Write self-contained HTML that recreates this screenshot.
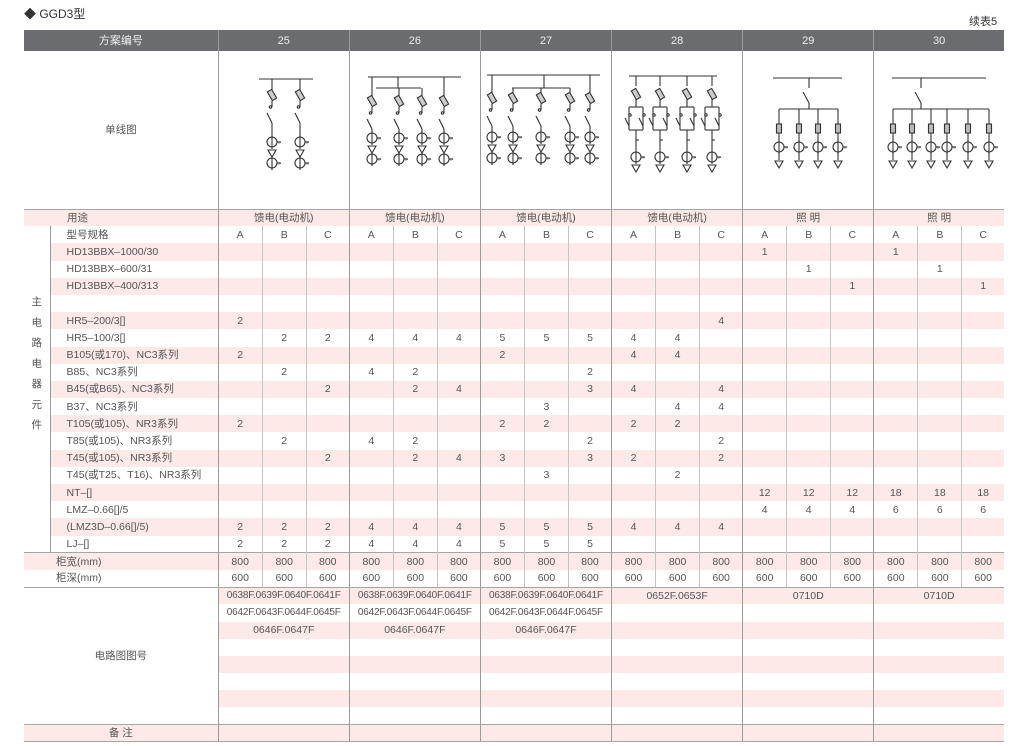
<!DOCTYPE html>
<html><head><meta charset="utf-8">
<style>
*{margin:0;padding:0;box-sizing:border-box}
body{width:1026px;height:746px;background:#fff;position:relative;overflow:hidden;font-family:"Liberation Sans","Noto Sans CJK SC",sans-serif;color:#555;font-size:10.5px}
#t1{position:absolute;left:24px;top:5px;font-size:12px;color:#333}
#t2{position:absolute;left:969px;top:13px;font-size:11px;color:#333}
table{position:absolute;left:24px;top:30px;width:980px;border-collapse:collapse;table-layout:fixed}
td{padding:0;text-align:center;white-space:nowrap;overflow:hidden;height:17.2px;line-height:16px}
.hd td{background:#6b6c70;color:#eee;height:21px;font-size:11px}
.hd td.g{border-left:1px solid #9a9a9a}
.dg td{height:158px}
.g{border-left:1px solid #9a9a9a}
.s{border-left:1px solid #c4c4c4}
.p td{background:#fce9e8}
.p td.w{background:#fff}
.l{text-align:left;padding-left:16px}
.lb{border-left:1px solid #9a9a9a}
.bt td{border-top:1px solid #a5a5a5}
.bb td{border-bottom:1px solid #a5a5a5}
.v{vertical-align:top;line-height:20.5px;padding-top:66px;font-size:10.5px;background:#fff!important}
.n{font-size:10px;letter-spacing:-0.2px}
svg{position:absolute;left:0;top:0}
</style></head><body>
<div id="t1">◆ GGD3型</div>
<div id="t2">续表5</div>
<table>
<colgroup><col style="width:26px"><col style="width:168px">
<col style="width:44px"><col style="width:44px"><col style="width:43px">
<col style="width:44px"><col style="width:44px"><col style="width:43px">
<col style="width:44px"><col style="width:44px"><col style="width:43px">
<col style="width:44px"><col style="width:44px"><col style="width:43px">
<col style="width:44px"><col style="width:44px"><col style="width:43px">
<col style="width:44px"><col style="width:44px"><col style="width:42px"></colgroup>
<tr class="hd"><td colspan="2">方案编号</td><td colspan="3" class="g">25</td><td colspan="3" class="g">26</td><td colspan="3" class="g">27</td><td colspan="3" class="g">28</td><td colspan="3" class="g">29</td><td colspan="3" class="g">30</td></tr>
<tr class="dg"><td colspan="2">单线图</td><td colspan="3" class="g"></td><td colspan="3" class="g"></td><td colspan="3" class="g"></td><td colspan="3" class="g"></td><td colspan="3" class="g"></td><td colspan="3" class="g"></td></tr>
<tr class="p bt"><td colspan="2" style="text-align:left;padding-left:43px">用途</td><td colspan="3" class="g">馈电(电动机)</td><td colspan="3" class="g">馈电(电动机)</td><td colspan="3" class="g">馈电(电动机)</td><td colspan="3" class="g">馈电(电动机)</td><td colspan="3" class="g">照 明</td><td colspan="3" class="g">照 明</td></tr>
<tr><td rowspan="19" class="v">主<br>电<br>路<br>电<br>器<br>元<br>件</td><td class="l lb">型号规格</td><td class="g">A</td><td class="s">B</td><td class="s">C</td><td class="g">A</td><td class="s">B</td><td class="s">C</td><td class="g">A</td><td class="s">B</td><td class="s">C</td><td class="g">A</td><td class="s">B</td><td class="s">C</td><td class="g">A</td><td class="s">B</td><td class="s">C</td><td class="g">A</td><td class="s">B</td><td class="s">C</td></tr>
<tr class="p"><td class="l lb">HD13BBX–1000/30</td><td class="g"></td><td class="s"></td><td class="s"></td><td class="g"></td><td class="s"></td><td class="s"></td><td class="g"></td><td class="s"></td><td class="s"></td><td class="g"></td><td class="s"></td><td class="s"></td><td class="g">1</td><td class="s"></td><td class="s"></td><td class="g">1</td><td class="s"></td><td class="s"></td></tr>
<tr><td class="l lb">HD13BBX–600/31</td><td class="g"></td><td class="s"></td><td class="s"></td><td class="g"></td><td class="s"></td><td class="s"></td><td class="g"></td><td class="s"></td><td class="s"></td><td class="g"></td><td class="s"></td><td class="s"></td><td class="g"></td><td class="s">1</td><td class="s"></td><td class="g"></td><td class="s">1</td><td class="s"></td></tr>
<tr class="p"><td class="l lb">HD13BBX–400/313</td><td class="g"></td><td class="s"></td><td class="s"></td><td class="g"></td><td class="s"></td><td class="s"></td><td class="g"></td><td class="s"></td><td class="s"></td><td class="g"></td><td class="s"></td><td class="s"></td><td class="g"></td><td class="s"></td><td class="s">1</td><td class="g"></td><td class="s"></td><td class="s">1</td></tr>
<tr><td class="l lb"></td><td class="g"></td><td class="s"></td><td class="s"></td><td class="g"></td><td class="s"></td><td class="s"></td><td class="g"></td><td class="s"></td><td class="s"></td><td class="g"></td><td class="s"></td><td class="s"></td><td class="g"></td><td class="s"></td><td class="s"></td><td class="g"></td><td class="s"></td><td class="s"></td></tr>
<tr class="p"><td class="l lb">HR5–200/3[]</td><td class="g">2</td><td class="s"></td><td class="s"></td><td class="g"></td><td class="s"></td><td class="s"></td><td class="g"></td><td class="s"></td><td class="s"></td><td class="g"></td><td class="s"></td><td class="s">4</td><td class="g"></td><td class="s"></td><td class="s"></td><td class="g"></td><td class="s"></td><td class="s"></td></tr>
<tr><td class="l lb">HR5–100/3[]</td><td class="g"></td><td class="s">2</td><td class="s">2</td><td class="g">4</td><td class="s">4</td><td class="s">4</td><td class="g">5</td><td class="s">5</td><td class="s">5</td><td class="g">4</td><td class="s">4</td><td class="s"></td><td class="g"></td><td class="s"></td><td class="s"></td><td class="g"></td><td class="s"></td><td class="s"></td></tr>
<tr class="p"><td class="l lb">B105(或170)、NC3系列</td><td class="g">2</td><td class="s"></td><td class="s"></td><td class="g"></td><td class="s"></td><td class="s"></td><td class="g">2</td><td class="s"></td><td class="s"></td><td class="g">4</td><td class="s">4</td><td class="s"></td><td class="g"></td><td class="s"></td><td class="s"></td><td class="g"></td><td class="s"></td><td class="s"></td></tr>
<tr><td class="l lb">B85、NC3系列</td><td class="g"></td><td class="s">2</td><td class="s"></td><td class="g">4</td><td class="s">2</td><td class="s"></td><td class="g"></td><td class="s"></td><td class="s">2</td><td class="g"></td><td class="s"></td><td class="s"></td><td class="g"></td><td class="s"></td><td class="s"></td><td class="g"></td><td class="s"></td><td class="s"></td></tr>
<tr class="p"><td class="l lb">B45(或B65)、NC3系列</td><td class="g"></td><td class="s"></td><td class="s">2</td><td class="g"></td><td class="s">2</td><td class="s">4</td><td class="g"></td><td class="s"></td><td class="s">3</td><td class="g">4</td><td class="s"></td><td class="s">4</td><td class="g"></td><td class="s"></td><td class="s"></td><td class="g"></td><td class="s"></td><td class="s"></td></tr>
<tr><td class="l lb">B37、NC3系列</td><td class="g"></td><td class="s"></td><td class="s"></td><td class="g"></td><td class="s"></td><td class="s"></td><td class="g"></td><td class="s">3</td><td class="s"></td><td class="g"></td><td class="s">4</td><td class="s">4</td><td class="g"></td><td class="s"></td><td class="s"></td><td class="g"></td><td class="s"></td><td class="s"></td></tr>
<tr class="p"><td class="l lb">T105(或105)、NR3系列</td><td class="g">2</td><td class="s"></td><td class="s"></td><td class="g"></td><td class="s"></td><td class="s"></td><td class="g">2</td><td class="s">2</td><td class="s"></td><td class="g">2</td><td class="s">2</td><td class="s"></td><td class="g"></td><td class="s"></td><td class="s"></td><td class="g"></td><td class="s"></td><td class="s"></td></tr>
<tr><td class="l lb">T85(或105)、NR3系列</td><td class="g"></td><td class="s">2</td><td class="s"></td><td class="g">4</td><td class="s">2</td><td class="s"></td><td class="g"></td><td class="s"></td><td class="s">2</td><td class="g"></td><td class="s"></td><td class="s">2</td><td class="g"></td><td class="s"></td><td class="s"></td><td class="g"></td><td class="s"></td><td class="s"></td></tr>
<tr class="p"><td class="l lb">T45(或105)、NR3系列</td><td class="g"></td><td class="s"></td><td class="s">2</td><td class="g"></td><td class="s">2</td><td class="s">4</td><td class="g">3</td><td class="s"></td><td class="s">3</td><td class="g">2</td><td class="s"></td><td class="s">2</td><td class="g"></td><td class="s"></td><td class="s"></td><td class="g"></td><td class="s"></td><td class="s"></td></tr>
<tr><td class="l lb">T45(或T25、T16)、NR3系列</td><td class="g"></td><td class="s"></td><td class="s"></td><td class="g"></td><td class="s"></td><td class="s"></td><td class="g"></td><td class="s">3</td><td class="s"></td><td class="g"></td><td class="s">2</td><td class="s"></td><td class="g"></td><td class="s"></td><td class="s"></td><td class="g"></td><td class="s"></td><td class="s"></td></tr>
<tr class="p"><td class="l lb">NT–[]</td><td class="g"></td><td class="s"></td><td class="s"></td><td class="g"></td><td class="s"></td><td class="s"></td><td class="g"></td><td class="s"></td><td class="s"></td><td class="g"></td><td class="s"></td><td class="s"></td><td class="g">12</td><td class="s">12</td><td class="s">12</td><td class="g">18</td><td class="s">18</td><td class="s">18</td></tr>
<tr><td class="l lb">LMZ–0.66[]/5</td><td class="g"></td><td class="s"></td><td class="s"></td><td class="g"></td><td class="s"></td><td class="s"></td><td class="g"></td><td class="s"></td><td class="s"></td><td class="g"></td><td class="s"></td><td class="s"></td><td class="g">4</td><td class="s">4</td><td class="s">4</td><td class="g">6</td><td class="s">6</td><td class="s">6</td></tr>
<tr class="p"><td class="l lb">(LMZ3D–0.66[]/5)</td><td class="g">2</td><td class="s">2</td><td class="s">2</td><td class="g">4</td><td class="s">4</td><td class="s">4</td><td class="g">5</td><td class="s">5</td><td class="s">5</td><td class="g">4</td><td class="s">4</td><td class="s">4</td><td class="g"></td><td class="s"></td><td class="s"></td><td class="g"></td><td class="s"></td><td class="s"></td></tr>
<tr><td class="l lb">LJ–[]</td><td class="g">2</td><td class="s">2</td><td class="s">2</td><td class="g">4</td><td class="s">4</td><td class="s">4</td><td class="g">5</td><td class="s">5</td><td class="s">5</td><td class="g"></td><td class="s"></td><td class="s"></td><td class="g"></td><td class="s"></td><td class="s"></td><td class="g"></td><td class="s"></td><td class="s"></td></tr>
<tr class="p bt"><td colspan="2" style="text-align:left;padding-left:32px">柜宽(mm)</td><td class="g">800</td><td class="s">800</td><td class="s">800</td><td class="g">800</td><td class="s">800</td><td class="s">800</td><td class="g">800</td><td class="s">800</td><td class="s">800</td><td class="g">800</td><td class="s">800</td><td class="s">800</td><td class="g">800</td><td class="s">800</td><td class="s">800</td><td class="g">800</td><td class="s">800</td><td class="s">800</td></tr>
<tr class="bb"><td colspan="2" style="text-align:left;padding-left:32px">柜深(mm)</td><td class="g">600</td><td class="s">600</td><td class="s">600</td><td class="g">600</td><td class="s">600</td><td class="s">600</td><td class="g">600</td><td class="s">600</td><td class="s">600</td><td class="g">600</td><td class="s">600</td><td class="s">600</td><td class="g">600</td><td class="s">600</td><td class="s">600</td><td class="g">600</td><td class="s">600</td><td class="s">600</td></tr>
<tr class="p"><td colspan="2" rowspan="8" class="w">电路图图号</td><td colspan="3" class="g n">0638F.0639F.0640F.0641F</td><td colspan="3" class="g n">0638F.0639F.0640F.0641F</td><td colspan="3" class="g n">0638F.0639F.0640F.0641F</td><td colspan="3" class="g">0652F.0653F</td><td colspan="3" class="g">0710D</td><td colspan="3" class="g">0710D</td></tr>
<tr><td colspan="3" class="g n">0642F.0643F.0644F.0645F</td><td colspan="3" class="g n">0642F.0643F.0644F.0645F</td><td colspan="3" class="g n">0642F.0643F.0644F.0645F</td><td colspan="3" class="g"></td><td colspan="3" class="g"></td><td colspan="3" class="g"></td></tr>
<tr class="p"><td colspan="3" class="g">0646F.0647F</td><td colspan="3" class="g">0646F.0647F</td><td colspan="3" class="g">0646F.0647F</td><td colspan="3" class="g"></td><td colspan="3" class="g"></td><td colspan="3" class="g"></td></tr>
<tr><td colspan="3" class="g"></td><td colspan="3" class="g"></td><td colspan="3" class="g"></td><td colspan="3" class="g"></td><td colspan="3" class="g"></td><td colspan="3" class="g"></td></tr>
<tr class="p"><td colspan="3" class="g"></td><td colspan="3" class="g"></td><td colspan="3" class="g"></td><td colspan="3" class="g"></td><td colspan="3" class="g"></td><td colspan="3" class="g"></td></tr>
<tr><td colspan="3" class="g"></td><td colspan="3" class="g"></td><td colspan="3" class="g"></td><td colspan="3" class="g"></td><td colspan="3" class="g"></td><td colspan="3" class="g"></td></tr>
<tr class="p"><td colspan="3" class="g"></td><td colspan="3" class="g"></td><td colspan="3" class="g"></td><td colspan="3" class="g"></td><td colspan="3" class="g"></td><td colspan="3" class="g"></td></tr>
<tr><td colspan="3" class="g"></td><td colspan="3" class="g"></td><td colspan="3" class="g"></td><td colspan="3" class="g"></td><td colspan="3" class="g"></td><td colspan="3" class="g"></td></tr>
<tr class="p bt bb"><td colspan="2">备 注</td><td colspan="3" class="g"></td><td colspan="3" class="g"></td><td colspan="3" class="g"></td><td colspan="3" class="g"></td><td colspan="3" class="g"></td><td colspan="3" class="g"></td></tr>
</table>
<svg id="d" width="1026" height="746" viewBox="0 0 1026 746" fill="none" stroke="#333" stroke-width="1.1"></svg>
<script>
var s='';
function L(a,b,c,d){s+='<line x1="'+a+'" y1="'+b+'" x2="'+c+'" y2="'+d+'"/>';}
function C(x,y,r){s+='<circle cx="'+x+'" cy="'+y+'" r="'+r+'" fill="#fff"/>';}
function fuse(x,y){s+='<rect x="'+(x-2.5)+'" y="'+(y-5)+'" width="5" height="10" transform="rotate(-30 '+x+' '+y+')" fill="#ccc"/>';}
function ct(x,y){C(x,y,5);L(x,y-7,x,y+7);L(x+5,y,x+9,y);s+='<text x="'+(x+6)+'" y="'+(y+2)+'" font-size="5" fill="#333" stroke="none">»</text>';}
function tri(x,y){s+='<path d="M'+(x-4)+' '+(y-3)+'L'+(x+4)+' '+(y-3)+'L'+x+' '+(y+4)+'Z" fill="#fff"/>';}
function feeder(x,top,f,c1){
 L(x,top,x,f-5);fuse(x,f);L(x,f+6,x,f+12);C(x-1.5,f+12,1.2);
 L(x-5,f+18,x,f+28);L(x,f+28,x,f+32);L(x,f+32,x,c1);
 ct(x,c1);tri(x,c1+11);ct(x,c1+21);L(x,c1+25,x,c1+28);
}
L(259,79,313,79);[272,300].forEach(function(x){feeder(x,79,95,142);});
L(368,77,461,77);L(398,77,398,88);L(376,88,421,88);
feeder(372,77,101,138);feeder(399,88,101,138);feeder(422,88,101,138);feeder(444,77,101,138);
L(487,75,600,75);L(544,75,544,88);L(512,88,570,88);
feeder(492,75,98,137);feeder(513,88,98,137);feeder(541,88,98,137);feeder(570,88,98,137);feeder(590,75,98,137);
L(629,76,717,76);
[636,660,687,712].forEach(function(x){
 L(x,76,x,86);fuse(x,94);L(x,99,x,107);L(x-7,107,x+7,107);L(x-7,107,x-7,130);L(x+7,107,x+7,130);L(x-7,130,x+7,130);
 C(x-6,115,1.2);C(x+8,115,1.2);L(x-11,118,x-7,126);L(x+3,118,x+7,126);
 L(x,130,x,150);L(x,140,x+3,140);ct(x,157);tri(x,168);
});
function light(b0,b1,sx,xs){
 L(b0,78,b1,78);L(sx,78,sx,88);L(sx-6,92,sx,103);L(sx,103,sx,109);L(xs[0],109,xs[xs.length-1],109);
 xs.forEach(function(x){L(x,109,x,160);s+='<rect x="'+(x-2.5)+'" y="124" width="5" height="9" fill="#bbb"/>';ct(x,147);tri(x,164);});
}
light(773,842,809,[779,799,818,838]);
light(892,986,921,[893,912,931,947,968,989]);
document.getElementById('d').innerHTML=s;
</script>
</body></html>
